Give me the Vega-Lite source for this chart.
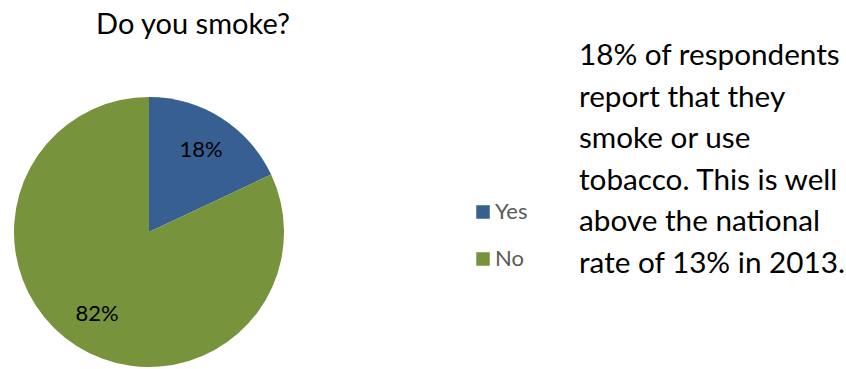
{
  "$schema": "https://vega.github.io/schema/vega-lite/v6.json",
  "background": "white",
  "padding": {"left": 14, "top": 11, "right": 0, "bottom": 0},
  "spacing": 51,
  "config": {"view": {"stroke": null}, "font": "Lato"},
  "resolve": {"scale": {"color": "independent"}, "legend": {"color": "independent"}},
  "hconcat": [
    {
      "width": 270,
      "height": 270,
      "title": {"text": "Do you smoke?", "fontSize": 29, "fontWeight": "normal", "font": "Lato", "color": "#000000", "anchor": "middle", "dx": 44, "offset": 34, "baseline": "alphabetic"},
      "data": {"values": [
        {"answer": "Yes", "pct": 18, "label": "18%", "ord": 1},
        {"answer": "No", "pct": 82, "label": "82%", "ord": 2}
      ]},
      "encoding": {
        "theta": {"field": "pct", "type": "quantitative", "stack": true},
        "order": {"field": "ord", "type": "quantitative"}
      },
      "layer": [
        {
          "mark": {"type": "arc", "outerRadius": 135},
          "encoding": {
            "color": {
              "field": "answer", "type": "nominal",
              "scale": {"domain": ["Yes", "No"], "range": ["#375F91", "#77933C"]},
              "legend": {"orient": "none", "legendX": 458, "legendY": 104, "title": null, "symbolType": "square", "symbolSize": 182, "labelFontSize": 22, "labelColor": "#595959", "labelOffset": 1, "rowPadding": 25, "labelFont": "Lato", "symbolStrokeWidth": 0}
            }
          }
        },
        {
          "mark": {"type": "text", "radius": 97, "fontSize": 22, "color": "#000000", "font": "Lato"},
          "encoding": {"text": {"field": "label"}}
        }
      ]
    },
    {
      "width": 260,
      "height": 208,
      "data": {"values": [
        {"i": 1, "line": "18% of respondents"},
        {"i": 2, "line": "report that they"},
        {"i": 3, "line": "smoke or use"},
        {"i": 4, "line": "tobacco. This is well"},
        {"i": 5, "line": "above the national"},
        {"i": 6, "line": "rate of 13% in 2013."}
      ]},
      "mark": {"type": "text", "align": "left", "baseline": "alphabetic", "fontSize": 29.7, "font": "Lato", "color": "#000000", "dy": -32},
      "encoding": {
        "y": {"field": "i", "type": "ordinal", "scale": {"type": "point", "padding": 0}, "axis": null},
        "x": {"value": 0},
        "text": {"field": "line"}
      }
    }
  ]
}
